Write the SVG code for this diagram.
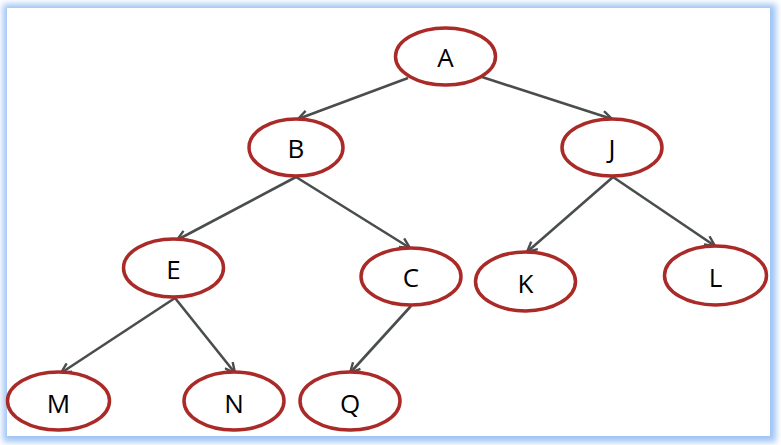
<svg xmlns="http://www.w3.org/2000/svg" width="781" height="445" viewBox="0 0 781 445">
<style>
.n ellipse{fill:#fff;stroke:#aa2a28;stroke-width:3.5}
.n text{font-family:"Open Sans","Liberation Sans",sans-serif;font-size:26px;fill:#000;text-anchor:middle}
.e line{stroke:#4a4d4d;stroke-width:2.6;fill:none}
</style>
<defs>
<filter id="glow" x="-5%" y="-5%" width="110%" height="110%">
<feGaussianBlur stdDeviation="3"/>
</filter>
<marker id="ah" viewBox="0 0 12 12" refX="11" refY="6" markerWidth="12" markerHeight="12" markerUnits="userSpaceOnUse" orient="auto">
<path d="M1,1 L11,6 L1,11" fill="none" stroke="#4a4d4d" stroke-width="2.4"/>
</marker>
</defs>
<rect width="781" height="445" fill="#fff"/>
<rect x="3" y="4" width="773" height="438" fill="#9ec4f5" filter="url(#glow)"/>
<rect x="7" y="8" width="763" height="428" fill="#fff"/>
<g class="e">
<line x1="408" y1="78" x2="298" y2="119" marker-end="url(#ah)"/>
<line x1="482" y1="77" x2="612" y2="119" marker-end="url(#ah)"/>
<line x1="296" y1="177" x2="177" y2="240" marker-end="url(#ah)"/>
<line x1="296" y1="177" x2="410" y2="248" marker-end="url(#ah)"/>
<line x1="613" y1="177" x2="527" y2="252" marker-end="url(#ah)"/>
<line x1="613" y1="177" x2="715" y2="246" marker-end="url(#ah)"/>
<line x1="175" y1="298" x2="61" y2="373" marker-end="url(#ah)"/>
<line x1="175" y1="298" x2="235" y2="373" marker-end="url(#ah)"/>
<line x1="411" y1="306" x2="350" y2="373" marker-end="url(#ah)"/>
</g>
<g id="A" class="n"><ellipse cx="445.5" cy="56.5" rx="50" ry="28.5"/><text x="445.5" y="66.5">A</text></g>
<g id="B" class="n"><ellipse cx="296" cy="147.5" rx="47" ry="28.5"/><text x="296" y="157.5">B</text></g>
<g id="J" class="n"><ellipse cx="612" cy="147.5" rx="50" ry="28.5"/><text x="612" y="157.5">J</text></g>
<g id="E" class="n"><ellipse cx="173.5" cy="268" rx="50" ry="29"/><text x="173.5" y="278.5">E</text></g>
<g id="C" class="n"><ellipse cx="411" cy="276.5" rx="50" ry="28.5"/><text x="411" y="286.5">C</text></g>
<g id="K" class="n"><ellipse cx="525.5" cy="281.5" rx="50" ry="29.5"/><text x="525.5" y="293">K</text></g>
<g id="L" class="n"><ellipse cx="715.5" cy="275.5" rx="51" ry="29.5"/><text x="715.5" y="287">L</text></g>
<g id="M" class="n"><ellipse cx="58.5" cy="401" rx="51" ry="29"/><text x="58.5" y="413">M</text></g>
<g id="N" class="n"><ellipse cx="234" cy="401" rx="50" ry="29"/><text x="234" y="413">N</text></g>
<g id="Q" class="n"><ellipse cx="350" cy="401" rx="50" ry="29"/><text x="350" y="413">Q</text></g>
</svg>
